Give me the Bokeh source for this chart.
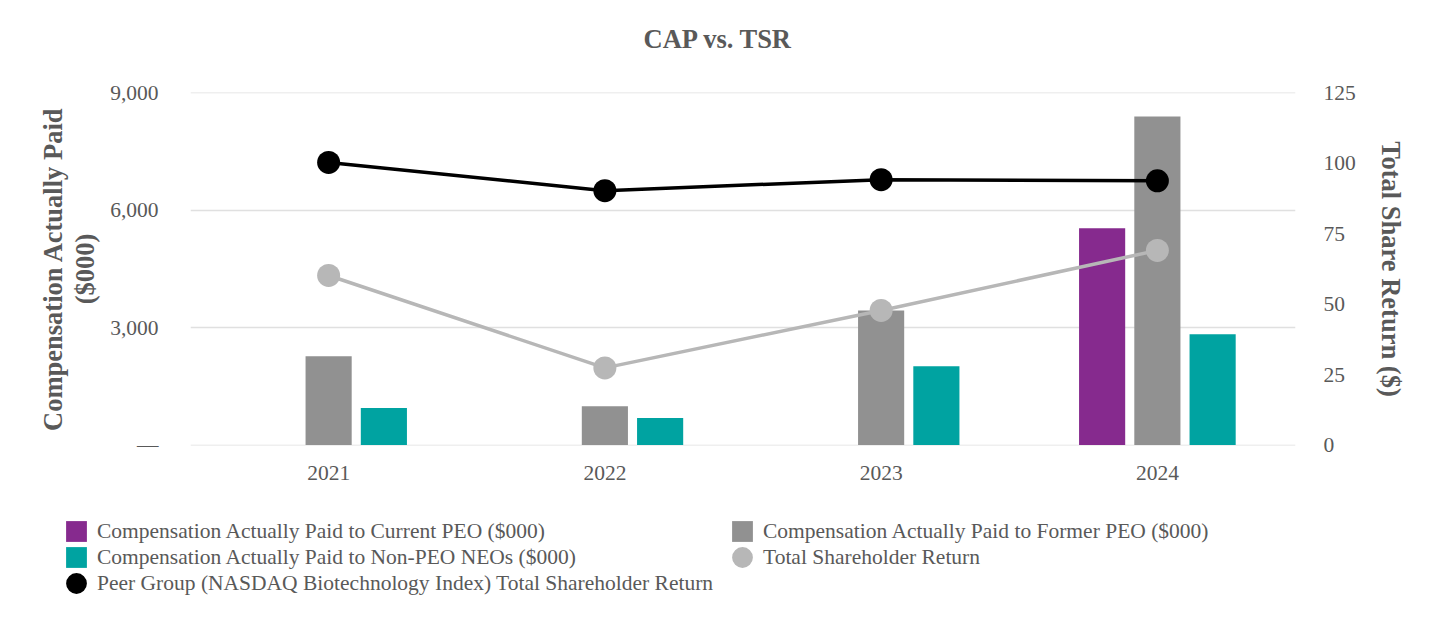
from bokeh.plotting import figure
from bokeh.models import (FactorRange, Range1d, LinearAxis, FixedTicker, CustomJSTickFormatter,
                          Legend, LegendItem, ColumnDataSource)
from bokeh.transform import dodge
from bokeh.embed import file_html
from bokeh.resources import INLINE

years = ["2021", "2022", "2023", "2024"]
current_peo = [0, 0, 0, 5540]
former_peo = [2270, 995, 3440, 8395]
non_peo_neos = [950, 695, 2015, 2830]
tsr = [60.2, 27.4, 47.8, 69.1]
peer_tsr = [100.3, 90.3, 94.2, 93.8]
left_ticks = [0, 3000, 6000, 9000]
right_ticks = [0, 25, 50, 75, 100, 125]

FONT = "Liberation Serif"
TXT = "#595959"
C_CUR, C_FOR, C_NON, C_TSR, C_PEER = "#862a8e", "#919191", "#00a3a1", "#b7b7b7", "#000000"

src = ColumnDataSource(dict(years=years, current=current_peo, former=former_peo,
                            nonpeo=non_peo_neos, tsr=tsr, peer=peer_tsr))

pad = 10  # tiny padding so the gridlines at 0 and 9,000 are drawn
p = figure(x_range=FactorRange(*years), y_range=Range1d(-pad, 9000 + pad),
           width=1424, height=500, output_backend="svg", toolbar_location=None,
           min_border_left=190, min_border_right=129, min_border_top=92, min_border_bottom=55,
           title="CAP vs. TSR\n")
tpad = pad * 125 / 9000
p.extra_y_ranges = {"tsr": Range1d(-tpad, 125 + tpad)}
p.outline_line_color = None

p.title.align = "left"
p.title.offset = 453
p.title.vertical_align = "top"
p.title.text_font = FONT
p.title.text_font_size = "26.5px"
p.title.text_font_style = "bold"
p.title.text_color = TXT
p.title.standoff = 14

# left axis
ya = p.yaxis[0]
ya.ticker = FixedTicker(ticks=left_ticks)
ya.formatter = CustomJSTickFormatter(code="return tick == 0 ? '\u2014' : tick.toLocaleString('en-US');")
ya.axis_label = "Compensation Actually Paid\n($000)"
ya.axis_label_standoff = 7
ya.axis_label_text_line_height = 1.07

# right axis
ra = LinearAxis(y_range_name="tsr", ticker=FixedTicker(ticks=right_ticks),
                axis_label="Total Share Return ($)")
p.add_layout(ra, "right")
ra.axis_label_standoff = 17

xa = p.xaxis[0]

for ax in (ya, ra, xa):
    ax.axis_line_color = None
    ax.major_tick_line_color = None
    ax.minor_tick_line_color = None
    ax.major_tick_out = 0
    ax.major_tick_in = 0
    ax.minor_tick_out = 0
    ax.minor_tick_in = 0
    ax.major_label_text_font = FONT
    ax.major_label_text_font_size = "21.5px"
    ax.major_label_text_color = TXT
    ax.axis_label_text_font = FONT
    ax.axis_label_text_font_size = "26.5px"
    ax.axis_label_text_font_style = "bold"
    ax.axis_label_text_color = TXT
ya.major_label_standoff = 32
ra.major_label_standoff = 28
xa.major_label_standoff = 20

p.xgrid.visible = False
p.ygrid.ticker = FixedTicker(ticks=left_ticks)
p.ygrid.grid_line_color = "#e0e0e0"
p.ygrid.grid_line_width = 1.5

bw = 0.167
p.vbar(x=dodge("years", -0.2, range=p.x_range), top="current", width=bw, source=src,
       fill_color=C_CUR, line_color=None)
p.vbar(x=dodge("years", 0.0, range=p.x_range), top="former", width=bw, source=src,
       fill_color=C_FOR, line_color=None)
p.vbar(x=dodge("years", 0.2, range=p.x_range), top="nonpeo", width=bw, source=src,
       fill_color=C_NON, line_color=None)

p.line(x="years", y="tsr", source=src, y_range_name="tsr", line_color=C_TSR, line_width=3.5)
p.ellipse(x="years", y="tsr", width=23, height=23, width_units="screen", height_units="screen",
          source=src, y_range_name="tsr", fill_color=C_TSR, line_color=None)
p.line(x="years", y="peer", source=src, y_range_name="tsr", line_color=C_PEER, line_width=3.5)
p.ellipse(x="years", y="peer", width=23, height=23, width_units="screen", height_units="screen",
          source=src, y_range_name="tsr", fill_color=C_PEER, line_color=None)

# legend strip below the chart (its proxy glyphs lie outside its visible range; only the legend shows)
leg = figure(x_range=p.x_range, y_range=Range1d(-20000, -10000), width=1424, height=116,
             output_backend="svg", toolbar_location=None, x_axis_location=None, y_axis_location=None,
             min_border_left=0, min_border_right=0, min_border_top=0, min_border_bottom=0)
leg.outline_line_color = None
leg.grid.visible = False
l_cur = leg.vbar(x=dodge("years", -0.2, range=p.x_range), top="current", width=0, source=src,
                 fill_color=C_CUR, line_color=None)
l_for = leg.vbar(x=dodge("years", 0.0, range=p.x_range), top="former", width=0, source=src,
                 fill_color=C_FOR, line_color=None)
l_non = leg.vbar(x=dodge("years", 0.2, range=p.x_range), top="nonpeo", width=0, source=src,
                 fill_color=C_NON, line_color=None)
l_tsr = leg.ellipse(x="years", y="tsr", width=23, height=23, width_units="screen", height_units="screen",
                    source=src, fill_color=C_TSR, line_color=None)
l_peer = leg.ellipse(x="years", y="peer", width=23, height=23, width_units="screen", height_units="screen",
                     source=src, fill_color=C_PEER, line_color=None)

legend = Legend(items=[
    LegendItem(label="Compensation Actually Paid to Current PEO ($000)", renderers=[l_cur]),
    LegendItem(label="Compensation Actually Paid to Former PEO ($000)", renderers=[l_for]),
    LegendItem(label="Compensation Actually Paid to Non-PEO NEOs ($000)", renderers=[l_non]),
    LegendItem(label="Total Shareholder Return", renderers=[l_tsr]),
    LegendItem(label="Peer Group (NASDAQ Biotechnology Index) Total Shareholder Return", renderers=[l_peer]),
], orientation="horizontal", ncols=2, location=(63, 20),
    glyph_width=26, glyph_height=26, label_height=25, label_width=632, spacing=-1,
    padding=0, margin=0, border_line_color=None, background_fill_alpha=0,
    label_text_font=FONT, label_text_font_size="21.5px", label_text_color=TXT, label_standoff=8)
leg.add_layout(legend, "center")

open("out.html", "w").write(file_html([p, leg], INLINE))
